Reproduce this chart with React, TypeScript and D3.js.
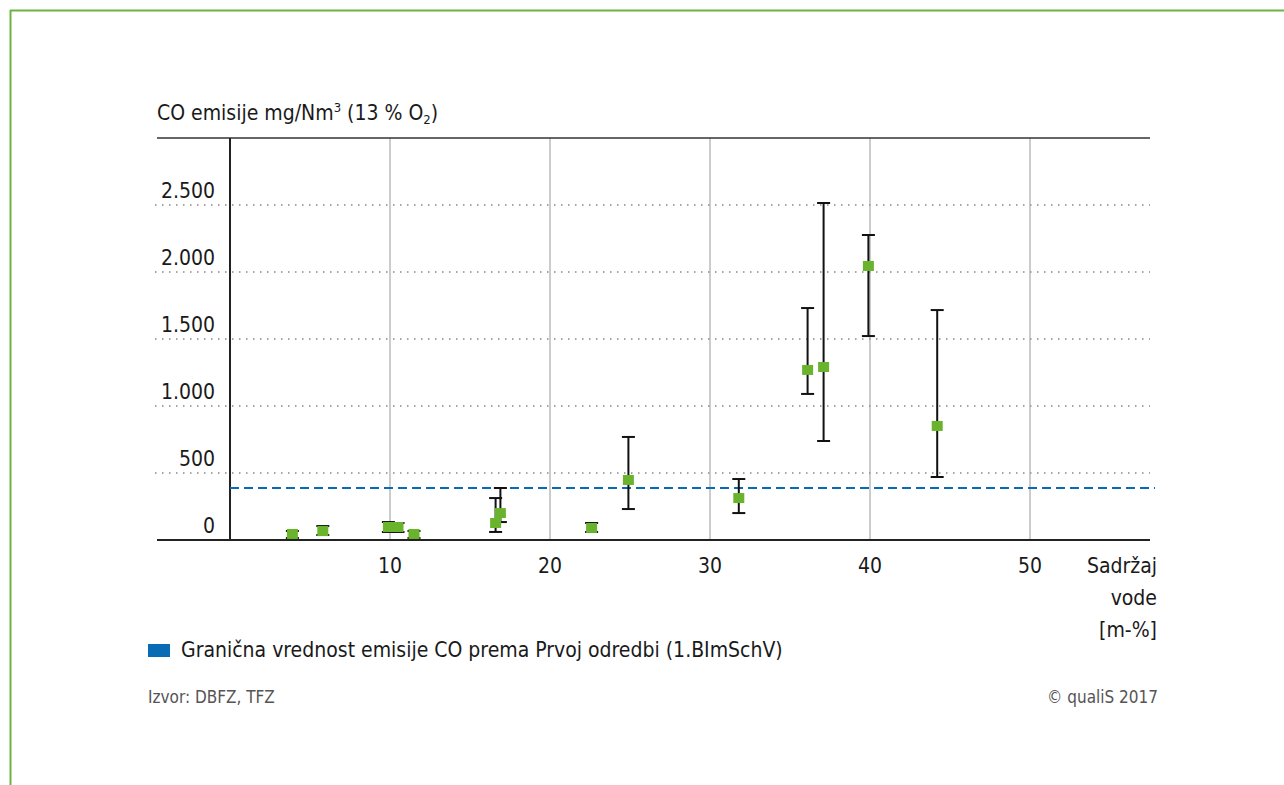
import React from "react";
import * as d3 from "d3";

const xTicks = [10, 20, 30, 40, 50];
const yTicks = [0, 500, 1000, 1500, 2000, 2500];
const yTickLabels = ["0", "500", "1.000", "1.500", "2.000", "2.500"];
const limitValue = 388;

const waterContent = [3.9, 5.8, 9.9, 10.5, 11.5, 16.6, 16.9, 22.6, 24.9, 31.8, 36.1, 37.1, 39.9, 44.2];
const coMean = [45, 67, 97, 97, 45, 127, 201, 90, 448, 313, 1269, 1291, 2045, 851];
const coLow = [15, 37, 60, 60, 15, 60, 134, 60, 231, 201, 1090, 739, 1522, 470];
const coHigh = [67, 104, 134, 127, 67, 313, 388, 127, 769, 455, 1731, 2515, 2276, 1716];

const FONT = "'Liberation Sans Narrow', 'DejaVu Sans Condensed', 'Open Sans', sans-serif";

export default function App() {
  const W = 1284, H = 785;
  const x = d3.scaleLinear().domain([0, 57.5]).range([230, 1150]);
  const y = d3.scaleLinear().domain([0, 3000]).range([540, 138]);
  const green = "#6ab42d";

  return (
    <div style={{ position: "absolute", left: 0, top: 0 }}>
      <svg width={W} height={H} style={{ display: "block", fontFamily: FONT, fontStretch: "condensed" }}>
        <rect x={0} y={0} width={W} height={H} fill="#fff" />
        {/* frame */}
        <line x1={10} y1={10.5} x2={W} y2={10.5} stroke="#6cb33f" strokeWidth={2} />
        <line x1={10.5} y1={10} x2={10.5} y2={H} stroke="#6cb33f" strokeWidth={2} />

        {/* title */}
        <text x={157} y={120} fontSize={21} fill="#1a1a1a">
          CO emisije mg/Nm<tspan fontSize={13} dy={-8}>3</tspan>
          <tspan dy={8}> (13 % O</tspan>
          <tspan fontSize={13} dy={4}>2</tspan>
          <tspan dy={-4}>)</tspan>
        </text>

        {/* horizontal dotted gridlines */}
        {yTicks.filter(t => t > 0).map(t => (
          <line key={t} x1={155} x2={1150} y1={y(t)} y2={y(t)} stroke="#888" strokeWidth={1.3} strokeDasharray="1.5 5.5" />
        ))}
        {/* vertical gridlines */}
        {xTicks.map(t => (
          <line key={t} x1={x(t)} x2={x(t)} y1={y(3000)} y2={y(0)} stroke="#999" strokeWidth={1} />
        ))}
        {/* top line */}
        <line x1={157} x2={1150} y1={y(3000)} y2={y(3000)} stroke="#333" strokeWidth={1.3} />
        {/* y axis */}
        <line x1={230} x2={230} y1={y(3000)} y2={y(0)} stroke="#222" strokeWidth={2} />
        {/* baseline */}
        <line x1={157} x2={1150} y1={y(0)} y2={y(0)} stroke="#222" strokeWidth={2} />

        {/* y tick labels */}
        {yTicks.map((t, i) => (
          <text key={t} x={215} y={y(t) - 7} textAnchor="end" fontSize={21} fill="#1a1a1a">{yTickLabels[i]}</text>
        ))}
        {/* x tick labels */}
        {xTicks.map(t => (
          <text key={t} x={x(t)} y={573} textAnchor="middle" fontSize={21} fill="#1a1a1a">{t}</text>
        ))}
        <text x={1157} textAnchor="end" fontSize={21} fill="#1a1a1a">
          <tspan x={1157} y={573}>Sadržaj</tspan>
          <tspan x={1157} y={605}>vode</tspan>
          <tspan x={1157} y={637}>[m-%]</tspan>
        </text>

        {/* limit line */}
        <line x1={230} x2={1155} y1={y(limitValue)} y2={y(limitValue)} stroke="#0a6bb5" strokeWidth={2.2} strokeDasharray="9 5" />

        {/* error bars */}
        {waterContent.map((w, i) => (
          <g key={i} stroke="#111" strokeWidth={2}>
            <line x1={x(w)} x2={x(w)} y1={y(coLow[i])} y2={y(coHigh[i])} />
            <line x1={x(w) - 6.5} x2={x(w) + 6.5} y1={y(coLow[i])} y2={y(coLow[i])} />
            <line x1={x(w) - 6.5} x2={x(w) + 6.5} y1={y(coHigh[i])} y2={y(coHigh[i])} />
          </g>
        ))}
        {/* markers */}
        {waterContent.map((w, i) => (
          <rect key={i} x={x(w) - 5.5} y={y(coMean[i]) - 5} width={11} height={10} fill={green} />
        ))}

        {/* legend */}
        <rect x={148} y={644} width={22} height={13} fill="#0a6bb5" />
        <text x={181} y={657} fontSize={21} fill="#1a1a1a">Granična vrednost emisije CO prema Prvoj odredbi (1.BImSchV)</text>

        {/* footer */}
        <text x={148} y={703} fontSize={17} fill="#555">Izvor: DBFZ, TFZ</text>
        <text x={1158} y={703} fontSize={17} fill="#555" textAnchor="end">© qualiS 2017</text>
      </svg>
    </div>
  );
}
